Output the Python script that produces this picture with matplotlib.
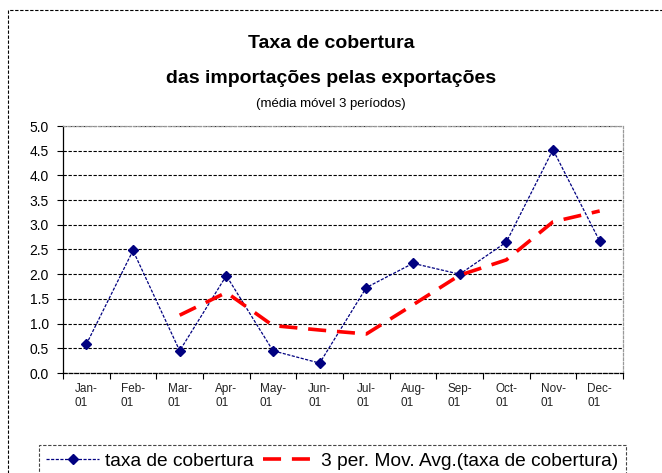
import matplotlib
matplotlib.use("Agg")
import matplotlib.pyplot as plt
from matplotlib import font_manager
from matplotlib.patches import Rectangle
from matplotlib.ticker import FixedLocator, NullFormatter, FormatStrFormatter

# data
months = ['Jan-\n01', 'Feb-\n01', 'Mar-\n01', 'Apr-\n01', 'May-\n01', 'Jun-\n01',
          'Jul-\n01', 'Aug-\n01', 'Sep-\n01', 'Oct-\n01', 'Nov-\n01', 'Dec-\n01']
taxa = [0.58, 2.48, 0.45, 1.97, 0.45, 0.20, 1.73, 2.22, 2.00, 2.65, 4.52, 2.67]
# 3 period moving average, starts at Mar
mavg_idx = [2, 3, 4, 5, 6, 7, 8, 9, 10, 11]
mavg = [1.17, 1.63, 0.96, 0.87, 0.79, 1.38, 1.98, 2.29, 3.06, 3.28]
yticks = [0.0, 0.5, 1.0, 1.5, 2.0, 2.5, 3.0, 3.5, 4.0, 4.5, 5.0]

names = {f.name for f in font_manager.fontManager.ttflist}
base = 'Liberation Sans' if 'Liberation Sans' in names else 'DejaVu Sans'
narrow = 'Liberation Sans Narrow' if 'Liberation Sans Narrow' in names else base
plt.rcParams['font.family'] = [base, 'DejaVu Sans']

W, H = 662, 473
fig = plt.figure(figsize=(W / 100, H / 100), dpi=100)

# outer dashed chart border (right/bottom run off the image)
fig.patches.append(Rectangle((8 / W, -0.1), 1.2, 1 - 10 / H + 0.1, transform=fig.transFigure,
                             fill=False, edgecolor='black', linestyle=(0, (3, 1.5)), linewidth=0.8))

ax = fig.add_axes([63 / W, 1 - 373 / H, 560 / W, 247 / H])
x = list(range(len(taxa)))

ax.plot(x, taxa, color='#000080', linewidth=0.9, linestyle=(0, (2.5, 1.2)),
        marker='D', markersize=5.5, markerfacecolor='#000080', markeredgecolor='#000080',
        label='taxa de cobertura')
ax.plot(mavg_idx, mavg, color='#ff0000', linewidth=2.6, linestyle=(0, (5, 3)),
        label='3 per. Mov. Avg.(taxa de cobertura)')

ax.set_xlim(-0.5, len(taxa) - 0.5)
ax.set_ylim(0, 5.0)

ax.set_yticks(yticks)
ax.yaxis.set_major_formatter(FormatStrFormatter('%.1f'))
ax.tick_params(axis='y', direction='out', length=4, width=0.8, labelsize=10, pad=6)
ax.yaxis.grid(True, color='black', linestyle=(0, (3, 1.5)), linewidth=0.8)

ax.xaxis.set_major_locator(FixedLocator([i - 0.5 for i in range(len(taxa) + 1)]))
ax.xaxis.set_major_formatter(NullFormatter())
ax.xaxis.set_minor_locator(FixedLocator(x))
ax.set_xticklabels(months, minor=True)
ax.tick_params(axis='x', which='major', direction='out', length=4, width=0.8)
ax.tick_params(axis='x', which='minor', length=0, pad=7, labelsize=8.5, labelcolor='#222222')
for lab in ax.get_xticklabels(minor=True):
    lab.set_family([narrow, 'DejaVu Sans'])
    lab.set_multialignment('left')
    lab.set_linespacing(1.3)

ax.spines['left'].set_color('black')
ax.spines['left'].set_linewidth(0.9)
ax.spines['bottom'].set_color('black')
ax.spines['bottom'].set_linestyle((0, (3, 1.5)))
ax.spines['bottom'].set_linewidth(0.9)
for s in ('top', 'right'):
    ax.spines[s].set_color('#999999')
    ax.spines[s].set_linestyle((0, (2, 1.5)))
    ax.spines[s].set_linewidth(0.9)

fig.text(0.5, 1 - 48 / H, 'Taxa de cobertura', ha='center', va='baseline',
         fontsize=14, fontweight='bold')
fig.text(0.5, 1 - 83 / H, 'das importações pelas exportações', ha='center', va='baseline',
         fontsize=14, fontweight='bold')
fig.text(0.5, 1 - 107 / H, '(média móvel 3 períodos)', ha='center', va='baseline',
         fontsize=9.5)

leg = fig.legend(loc='upper center', bbox_to_anchor=(332.5 / W, 1 - 445 / H), ncol=2,
                 fontsize=13.8, handlelength=2.75, handletextpad=0.3, columnspacing=0.5,
                 borderpad=0.4, borderaxespad=0, fancybox=False, framealpha=1,
                 edgecolor='#444444')
leg.get_frame().set_linestyle((0, (3, 1.5)))
leg.get_frame().set_linewidth(0.8)

fig.savefig('out.png', dpi=100)
